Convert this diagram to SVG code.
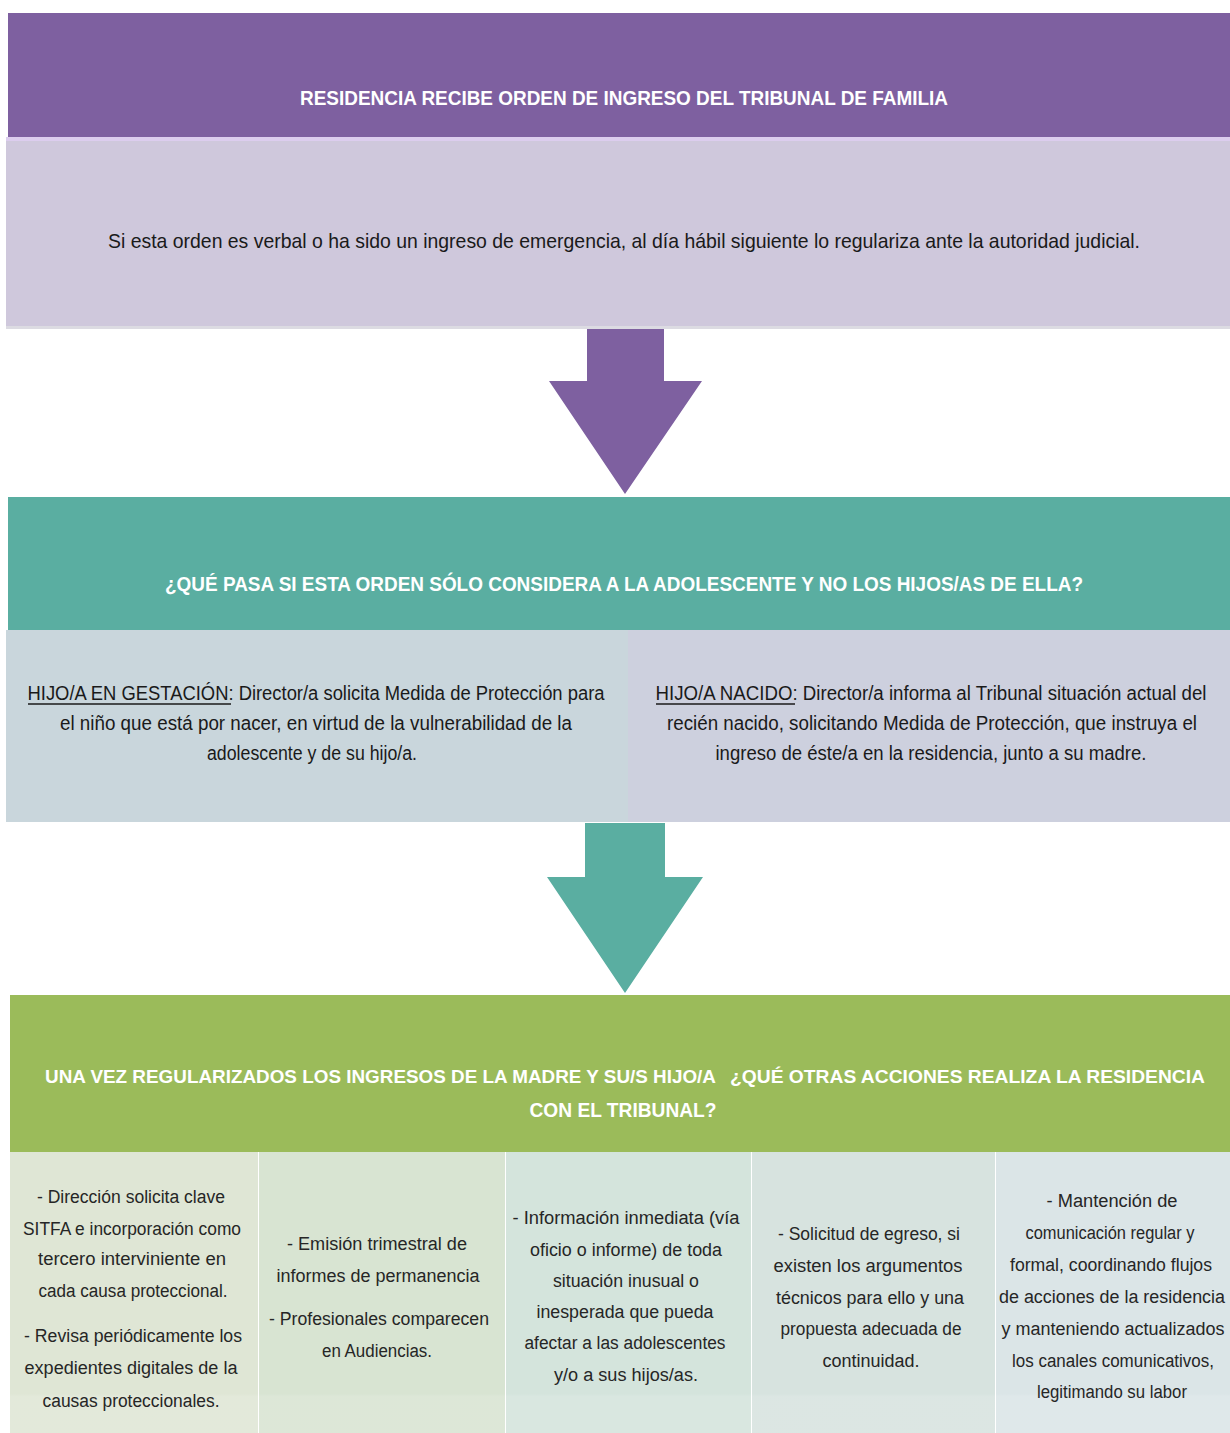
<svg xmlns="http://www.w3.org/2000/svg" width="1230" height="1433" viewBox="0 0 1230 1433">
<defs>
<style>
text{font-family:"Liberation Sans","Noto Sans",sans-serif;text-anchor:middle;}
.h{fill:#ffffff;font-weight:bold;font-size:21px;}
.g{fill:#ffffff;font-weight:bold;font-size:18.5px;text-anchor:start;}
.b{fill:#1a1a1a;font-size:21px;}
.s{fill:#1a1a1a;font-size:19.5px;}
.c{fill:#262626;font-size:18px;}
.ul{stroke:#1a1a1a;stroke-width:1.5;}
</style>
<linearGradient id="colg" x1="0" y1="0" x2="0" y2="1">
<stop offset="0" stop-color="#ffffff" stop-opacity="0"/>
<stop offset="0.86" stop-color="#ffffff" stop-opacity="0"/>
<stop offset="0.87" stop-color="#ffffff" stop-opacity="0.12"/>
<stop offset="1" stop-color="#ffffff" stop-opacity="0.12"/>
</linearGradient>
</defs>
<rect width="1230" height="1433" fill="#ffffff"/>

<g id="node-ingreso">
<rect x="8" y="13" width="1222" height="124" fill="#7e60a0"/>
<text class="h" x="624" y="105" textLength="648" lengthAdjust="spacingAndGlyphs">RESIDENCIA RECIBE ORDEN DE INGRESO DEL TRIBUNAL DE FAMILIA</text>
</g>

<g id="node-regulariza">
<rect x="6" y="137" width="1224" height="191" fill="#cfc8dc"/>
<rect x="6" y="137" width="1224" height="4" fill="#dccdee"/>
<rect x="6" y="326" width="1224" height="3" fill="#dcdbe2"/>
<text class="b" x="624" y="248" textLength="1032" lengthAdjust="spacingAndGlyphs">Si esta orden es verbal o ha sido un ingreso de emergencia, al día hábil siguiente lo regulariza ante la autoridad judicial.</text>
</g>

<g id="node-pregunta">
<rect x="8" y="497" width="1222" height="133" fill="#5aaea1"/>
<text class="h" x="624" y="591" font-size="23" textLength="918" lengthAdjust="spacingAndGlyphs">¿QUÉ PASA SI ESTA ORDEN SÓLO CONSIDERA A LA ADOLESCENTE Y NO LOS HIJOS/AS DE ELLA?</text>
</g>

<g id="node-gestacion">
<rect x="6" y="630" width="622" height="192" fill="#c9d6dc"/>
<text class="s" x="316" y="700" textLength="577" lengthAdjust="spacingAndGlyphs">HIJO/A EN GESTACIÓN:  Director/a solicita Medida de Protección para</text>
<line class="ul" x1="28" y1="704" x2="231" y2="704"/>
<text class="s" x="316" y="730" textLength="512" lengthAdjust="spacingAndGlyphs">el niño que está por nacer, en virtud de la vulnerabilidad de la</text>
<text class="s" x="312" y="760" textLength="210" lengthAdjust="spacingAndGlyphs">adolescente y de su hijo/a.</text>
</g>

<g id="node-nacido">
<rect x="628" y="630" width="602" height="192" fill="#cdd0de"/>
<text class="s" x="931" y="700" textLength="551" lengthAdjust="spacingAndGlyphs">HIJO/A NACIDO: Director/a informa  al Tribunal situación actual del</text>
<line class="ul" x1="656" y1="704" x2="795" y2="704"/>
<text class="s" x="932" y="730" textLength="530" lengthAdjust="spacingAndGlyphs">recién nacido,  solicitando Medida de Protección,  que instruya el</text>
<text class="s" x="931" y="760" textLength="431" lengthAdjust="spacingAndGlyphs">ingreso de éste/a en la residencia, junto a su madre.</text>
</g>

<g id="node-acciones">
<rect x="10" y="995" width="1220" height="157" fill="#9bbb5a"/>
<text class="g" x="45" y="1083" textLength="671" lengthAdjust="spacingAndGlyphs">UNA VEZ REGULARIZADOS LOS INGRESOS DE LA MADRE Y SU/S HIJO/A</text>
<text class="g" x="730" y="1083" textLength="475" lengthAdjust="spacingAndGlyphs">¿QUÉ OTRAS ACCIONES REALIZA LA RESIDENCIA</text>
<text class="h" x="623" y="1117" font-size="18.5" textLength="187" lengthAdjust="spacingAndGlyphs">CON EL TRIBUNAL?</text>
</g>

<g id="node-col1">
<rect x="10" y="1152" width="248" height="281" fill="#dfe6d5"/>
<rect x="10" y="1152" width="248" height="281" fill="url(#colg)"/>
<text class="c" x="131" y="1203" textLength="188" lengthAdjust="spacingAndGlyphs">- Dirección solicita clave</text>
<text class="c" x="132" y="1235" textLength="218" lengthAdjust="spacingAndGlyphs">SITFA e incorporación como</text>
<text class="c" x="132" y="1265" textLength="188" lengthAdjust="spacingAndGlyphs">tercero interviniente en</text>
<text class="c" x="133" y="1297" textLength="189" lengthAdjust="spacingAndGlyphs">cada causa proteccional.</text>
<text class="c" x="133" y="1342" textLength="218" lengthAdjust="spacingAndGlyphs">- Revisa periódicamente los</text>
<text class="c" x="131" y="1374" textLength="213" lengthAdjust="spacingAndGlyphs">expedientes digitales de la</text>
<text class="c" x="131" y="1407" textLength="177" lengthAdjust="spacingAndGlyphs">causas proteccionales.</text>
</g>

<g id="node-col2">
<rect x="259" y="1152" width="246" height="281" fill="#d8e4d2"/>
<rect x="259" y="1152" width="246" height="281" fill="url(#colg)"/>
<text class="c" x="377" y="1250" textLength="180" lengthAdjust="spacingAndGlyphs">- Emisión  trimestral de</text>
<text class="c" x="378" y="1282" textLength="203" lengthAdjust="spacingAndGlyphs">informes de permanencia</text>
<text class="c" x="379" y="1325" textLength="220" lengthAdjust="spacingAndGlyphs">- Profesionales comparecen</text>
<text class="c" x="377" y="1357" textLength="110" lengthAdjust="spacingAndGlyphs">en Audiencias.</text>
</g>

<g id="node-col3">
<rect x="506" y="1152" width="245" height="281" fill="#d4e4dc"/>
<rect x="506" y="1152" width="245" height="281" fill="url(#colg)"/>
<text class="c" x="626" y="1224" textLength="227" lengthAdjust="spacingAndGlyphs">- Información inmediata (vía</text>
<text class="c" x="626" y="1256" textLength="192" lengthAdjust="spacingAndGlyphs">oficio o informe) de toda</text>
<text class="c" x="626" y="1287" textLength="146" lengthAdjust="spacingAndGlyphs">situación inusual o</text>
<text class="c" x="625" y="1318" textLength="177" lengthAdjust="spacingAndGlyphs">inesperada que pueda</text>
<text class="c" x="625" y="1349" textLength="201" lengthAdjust="spacingAndGlyphs">afectar a las adolescentes</text>
<text class="c" x="626" y="1381" textLength="144" lengthAdjust="spacingAndGlyphs">y/o a sus hijos/as.</text>
</g>

<g id="node-col4">
<rect x="752" y="1152" width="243" height="281" fill="#d7e3df"/>
<rect x="752" y="1152" width="243" height="281" fill="url(#colg)"/>
<text class="c" x="869" y="1240" textLength="182" lengthAdjust="spacingAndGlyphs">- Solicitud de egreso, si</text>
<text class="c" x="868" y="1272" textLength="189" lengthAdjust="spacingAndGlyphs">existen los argumentos</text>
<text class="c" x="870" y="1304" textLength="188" lengthAdjust="spacingAndGlyphs">técnicos para ello y una</text>
<text class="c" x="871" y="1335" textLength="181" lengthAdjust="spacingAndGlyphs">propuesta adecuada de</text>
<text class="c" x="871" y="1367" textLength="97" lengthAdjust="spacingAndGlyphs">continuidad.</text>
</g>

<g id="node-col5">
<rect x="996" y="1152" width="234" height="281" fill="#dbe5e7"/>
<rect x="996" y="1152" width="234" height="281" fill="url(#colg)"/>
<text class="c" x="1112" y="1207" textLength="131" lengthAdjust="spacingAndGlyphs">- Mantención de</text>
<text class="c" x="1110" y="1239" textLength="169" lengthAdjust="spacingAndGlyphs">comunicación regular y</text>
<text class="c" x="1111" y="1271" textLength="202" lengthAdjust="spacingAndGlyphs">formal, coordinando flujos</text>
<text class="c" x="1112" y="1303" textLength="226" lengthAdjust="spacingAndGlyphs">de acciones de la residencia</text>
<text class="c" x="1113" y="1335" textLength="223" lengthAdjust="spacingAndGlyphs">y manteniendo actualizados</text>
<text class="c" x="1113" y="1367" textLength="202" lengthAdjust="spacingAndGlyphs">los canales comunicativos,</text>
<text class="c" x="1112" y="1398" textLength="150" lengthAdjust="spacingAndGlyphs">legitimando su labor</text>
</g>

<g id="connectors">
<polygon points="587,329 664,329 664,381 702,381 625,494 549,381 587,381" fill="#7e60a0"/>
<polygon points="585,823 665,823 665,877 703,877 625,993 547,877 585,877" fill="#5aaea1"/>
</g>
</svg>
